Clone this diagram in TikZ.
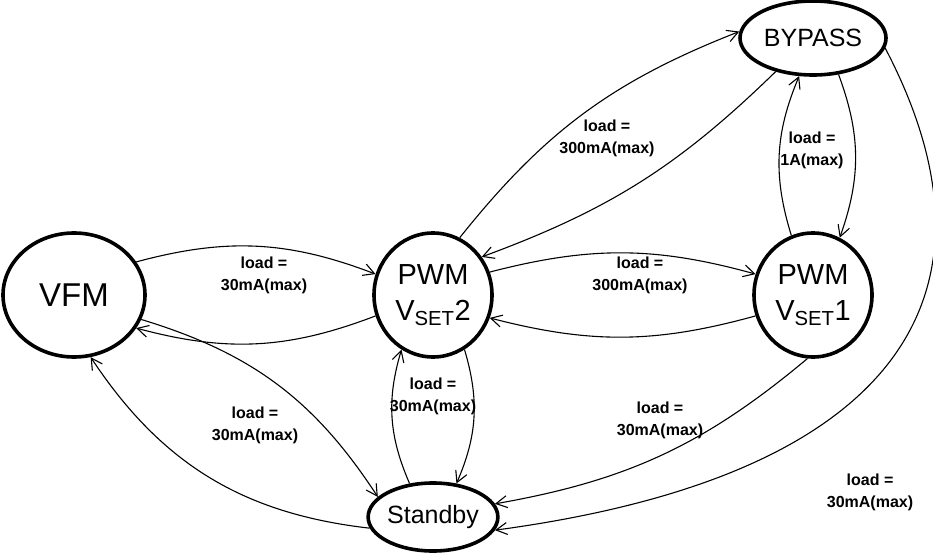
\documentclass[tikz,border=0pt]{standalone}
\usepackage{fontspec}
\setmainfont{Liberation Sans}
\usetikzlibrary{shapes.geometric,arrows.meta}

\begin{document}
\begin{tikzpicture}[x=1pt,y=-1pt,line width=1.1pt,
    state/.style={draw,ellipse,line width=3.6pt,inner sep=0pt,align=center,
        font=\fontsize{29}{36}\selectfont},
    big/.style={font=\fontsize{33}{36}\selectfont},
    small/.style={font=\fontsize{25}{28}\selectfont},
    lbl/.style={align=center,font=\bfseries\fontsize{16}{22}\selectfont},
    >={Straight Barb[length=11pt,width=12pt]}]
\useasboundingbox (0,0) rectangle (933,553);

% states
\node[state,big,minimum width=142pt,minimum height=124pt] (vfm) at (74,295) {VFM};
\node[state,minimum width=118pt,minimum height=124pt] (pwm2) at (433,295) {PWM\\V\textsubscript{SET}2};
\node[state,minimum width=118pt,minimum height=124pt] (pwm1) at (813,295) {PWM\\V\textsubscript{SET}1};
\node[state,small,minimum width=146pt,minimum height=74pt] (bypass) at (813,38) {BYPASS};
\node[state,small,minimum width=118pt,minimum height=68pt] (standby) at (433,517) {Standby};

% labels
\node[lbl] (l1) at (264,275) {load =\\30mA(max)};
\node[lbl] (l2) at (640,275) {load =\\300mA(max)};
\node[lbl] (l3) at (607,138) {load =\\300mA(max)};
\node[lbl] (l4) at (812,150) {load =\\1A(max)};
\node[lbl] (l5) at (433,396) {load =\\30mA(max)};
\node[lbl] (l6) at (255,425) {load =\\30mA(max)};
\node[lbl] (l7) at (660,420) {load =\\30mA(max)};
\node[lbl] (l8) at (870,492) {load =\\30mA(max)};

% transitions
\draw[->] (vfm.28) to[bend left=18] (pwm2.160);
\draw[->] (pwm2.200) to[bend left=18] (vfm.-28);
\draw[->] (pwm2.22) to[bend left=15] (pwm1.160);
\draw[->] (pwm1.200) to[bend left=15] (pwm2.-22);
\draw[->] (pwm2.65) to[bend left=15] (bypass.175);
\draw[->] (bypass.222) to[bend left=12] (pwm2.38);
\draw[->] (pwm1.110) to[bend left=20] (bypass.250);
\draw[->] (bypass.-55) to[bend left=20] (pwm1.65);
\draw[->] (pwm2.-60) to[bend left=20] (standby.55);
\draw[->] (standby.125) to[bend left=20] (pwm2.-120);
\draw[->] (vfm.-20) to[bend left=20] (standby.160);
\draw[->] (standby.190) to[bend left=25] (vfm.-75);
\draw[->] (pwm1.-95) to[bend left=15] (standby.12);
\draw[->] (bypass.-8) .. controls (1012,290) and (905,475) .. (standby.-12);
\end{tikzpicture}
\end{document}
